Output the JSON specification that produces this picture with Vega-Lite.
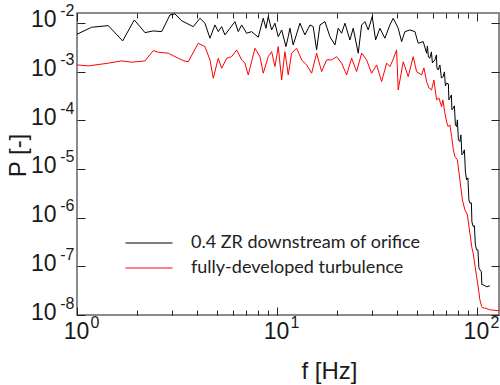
{
  "$schema": "https://vega.github.io/schema/vega-lite/v6.json",
  "width": 422,
  "height": 302,
  "autosize": {"type": "none"},
  "padding": {"left": 77, "top": 13, "right": 1, "bottom": 70},
  "config": {
    "view": {"stroke": "#666666", "strokeWidth": 1.5},
    "axis": {
      "grid": false, "domain": false,
      "labelFont": "Liberation Sans", "labelFontSize": 23, "labelColor": "#1a1a1a",
      "titleFont": "Liberation Sans", "titleFontSize": 24, "titleFontWeight": "normal", "titleColor": "#1a1a1a",
      "tickColor": "#222222", "tickWidth": 1,
      "labelOverlap": false, "labelFlush": false, "labelBound": false
    }
  },
  "data": {"values": [
    {"s":"b","f":1.0,"P":0.00586},{"s":"b","f":1.184,"P":0.00816},{"s":"b","f":1.434,"P":0.0088},{"s":"b","f":1.692,"P":0.00427},
    {"s":"b","f":1.934,"P":0.01152},{"s":"b","f":2.188,"P":0.00632},{"s":"b","f":2.407,"P":0.00685},{"s":"b","f":2.652,"P":0.00663},
    {"s":"b","f":2.917,"P":0.0146},{"s":"b","f":3.09,"P":0.0153},{"s":"b","f":3.35,"P":0.01099},{"s":"b","f":3.814,"P":0.00839},
    {"s":"b","f":4.121,"P":0.01249},{"s":"b","f":4.365,"P":0.00986},{"s":"b","f":4.624,"P":0.00485},{"s":"b","f":4.898,"P":0.0091},
    {"s":"b","f":5.088,"P":0.00663},{"s":"b","f":5.29,"P":0.00839},{"s":"b","f":5.495,"P":0.00567},{"s":"b","f":5.821,"P":0.00778},
    {"s":"b","f":6.166,"P":0.01063},{"s":"b","f":6.405,"P":0.00663},{"s":"b","f":6.661,"P":0.0091},{"s":"b","f":7.055,"P":0.00614},
    {"s":"b","f":7.47,"P":0.00663},{"s":"b","f":8.063,"P":0.00509},{"s":"b","f":8.541,"P":0.01249},{"s":"b","f":8.81,"P":0.00778},
    {"s":"b","f":9.046,"P":0.01347},{"s":"b","f":9.408,"P":0.00718},{"s":"b","f":9.772,"P":0.00986},{"s":"b","f":10.15,"P":0.00523},
    {"s":"b","f":10.56,"P":0.00718},{"s":"b","f":11.09,"P":0.00326},{"s":"b","f":11.39,"P":0.00523},{"s":"b","f":11.61,"P":0.00778},
    {"s":"b","f":12.06,"P":0.00353},{"s":"b","f":13.03,"P":0.00986},{"s":"b","f":13.8,"P":0.00567},{"s":"b","f":14.62,"P":0.0091},
    {"s":"b","f":15.19,"P":0.00839},{"s":"b","f":15.79,"P":0.00279},{"s":"b","f":16.41,"P":0.0091},{"s":"b","f":17.38,"P":0.01063},
    {"s":"b","f":18.41,"P":0.00523},{"s":"b","f":19.5,"P":0.00353},{"s":"b","f":20.25,"P":0.00778},{"s":"b","f":21.06,"P":0.00614},
    {"s":"b","f":21.88,"P":0.00986},{"s":"b","f":23.17,"P":0.00448},{"s":"b","f":24.07,"P":0.00778},{"s":"b","f":25.5,"P":0.00239},
    {"s":"b","f":26.52,"P":0.0091},{"s":"b","f":27.54,"P":0.01063},{"s":"b","f":28.61,"P":0.00718},{"s":"b","f":29.96,"P":0.01347},
    {"s":"b","f":31.15,"P":0.00448},{"s":"b","f":32.73,"P":0.00778},{"s":"b","f":34.67,"P":0.00485},{"s":"b","f":36.73,"P":0.0091},
    {"s":"b","f":38.15,"P":0.01249},{"s":"b","f":40.41,"P":0.00778},{"s":"b","f":42.03,"P":0.00413},{"s":"b","f":43.65,"P":0.00663},
    {"s":"b","f":46.24,"P":0.00718},{"s":"b","f":48.98,"P":0.00663},{"s":"b","f":50.88,"P":0.00383},{"s":"b","f":53.89,"P":0.00413},
    {"s":"b","f":56.04,"P":0.00239},{"s":"b","f":56.55,"P":0.00337},{"s":"b","f":57.21,"P":0.002},{"s":"b","f":58.21,"P":0.00188},
    {"s":"b","f":59.22,"P":0.00254},{"s":"b","f":59.91,"P":0.00151},{"s":"b","f":61.66,"P":0.00174},{"s":"b","f":62.73,"P":0.0022},
    {"s":"b","f":63.1,"P":0.00119},{"s":"b","f":64.05,"P":0.00108},{"s":"b","f":65.31,"P":0.00137},{"s":"b","f":66.45,"P":0.000742},
    {"s":"b","f":67.85,"P":0.000789},{"s":"b","f":68.79,"P":0.000986},{"s":"b","f":69.58,"P":0.000509},{"s":"b","f":70.55,"P":0.000578},
    {"s":"b","f":72.02,"P":0.000559},{"s":"b","f":72.44,"P":0.000262},{"s":"b","f":73.28,"P":0.000284},{"s":"b","f":74.57,"P":0.000332},
    {"s":"b","f":74.99,"P":0.000164},{"s":"b","f":76.12,"P":0.000177},{"s":"b","f":77.18,"P":0.000198},{"s":"b","f":78.08,"P":0.0000804},
    {"s":"b","f":79.16,"P":0.0000742},{"s":"b","f":79.9,"P":0.000102},{"s":"b","f":80.82,"P":0.0000396},{"s":"b","f":82.22,"P":0.0000365},
    {"s":"b","f":83.18,"P":0.0000501},{"s":"b","f":84.14,"P":0.0000195},{"s":"b","f":85.41,"P":0.0000211},{"s":"b","f":86.6,"P":0.0000247},
    {"s":"b","f":87.6,"P":0.00000872},{"s":"b","f":88.82,"P":0.00000597},{"s":"b","f":90.16,"P":0.00000657},{"s":"b","f":91.2,"P":0.00000232},
    {"s":"b","f":92.26,"P":0.00000199},{"s":"b","f":93.88,"P":0.00000201},{"s":"b","f":94.41,"P":0.00000082},{"s":"b","f":95.83,"P":0.000000657},
    {"s":"b","f":97.16,"P":0.000000679},{"s":"b","f":98.29,"P":0.000000276},{"s":"b","f":99.65,"P":0.000000218},{"s":"b","f":101.2,"P":0.000000218},
    {"s":"b","f":102.3,"P":0.0000000931},{"s":"b","f":103.5,"P":0.0000000847},{"s":"b","f":105.3,"P":0.0000000771},{"s":"b","f":105.9,"P":0.0000000417},
    {"s":"b","f":107.5,"P":0.0000000417},{"s":"b","f":112.2,"P":0.0000000379},{"s":"b","f":116.1,"P":0.0000000398},

    {"s":"r","f":1.0,"P":0.001373},{"s":"r","f":1.139,"P":0.00131},{"s":"r","f":1.434,"P":0.00149},{"s":"r","f":1.673,"P":0.00166},
    {"s":"r","f":1.877,"P":0.00156},{"s":"r","f":2.188,"P":0.00166},{"s":"r","f":2.407,"P":0.0027},{"s":"r","f":2.55,"P":0.0025},
    {"s":"r","f":2.861,"P":0.00239},{"s":"r","f":3.21,"P":0.00188},{"s":"r","f":3.428,"P":0.00166},{"s":"r","f":3.602,"P":0.0016},
    {"s":"r","f":4.041,"P":0.00383},{"s":"r","f":4.365,"P":0.00326},{"s":"r","f":4.624,"P":0.00174},{"s":"r","f":4.803,"P":0.000732},
    {"s":"r","f":5.088,"P":0.00188},{"s":"r","f":5.29,"P":0.00117},{"s":"r","f":5.604,"P":0.00188},{"s":"r","f":5.936,"P":0.00203},
    {"s":"r","f":6.288,"P":0.00279},{"s":"r","f":6.661,"P":0.00174},{"s":"r","f":6.918,"P":0.00149},{"s":"r","f":7.186,"P":0.000855},
    {"s":"r","f":7.762,"P":0.00302},{"s":"r","f":8.222,"P":0.00203},{"s":"r","f":8.541,"P":0.000927},{"s":"r","f":9.046,"P":0.00203},
    {"s":"r","f":9.408,"P":0.00257},{"s":"r","f":9.772,"P":0.00127},{"s":"r","f":10.15,"P":0.00326},{"s":"r","f":10.56,"P":0.000675},
    {"s":"r","f":10.96,"P":0.00257},{"s":"r","f":11.39,"P":0.000855},{"s":"r","f":11.84,"P":0.00239},{"s":"r","f":12.54,"P":0.00302},
    {"s":"r","f":13.29,"P":0.00174},{"s":"r","f":14.08,"P":0.001373},{"s":"r","f":14.91,"P":0.000927},{"s":"r","f":15.79,"P":0.00239},
    {"s":"r","f":16.73,"P":0.001},{"s":"r","f":17.72,"P":0.00174},{"s":"r","f":18.77,"P":0.00174},{"s":"r","f":19.88,"P":0.00203},
    {"s":"r","f":21.06,"P":0.00149},{"s":"r","f":22.31,"P":0.000855},{"s":"r","f":23.63,"P":0.00188},{"s":"r","f":25.03,"P":0.001},
    {"s":"r","f":26.52,"P":0.00239},{"s":"r","f":28.09,"P":0.00174},{"s":"r","f":29.75,"P":0.000927},{"s":"r","f":31.51,"P":0.001373},
    {"s":"r","f":33.38,"P":0.000623},{"s":"r","f":35.36,"P":0.00149},{"s":"r","f":36.73,"P":0.00127},{"s":"r","f":38.02,"P":0.00174},
    {"s":"r","f":39.67,"P":0.00279},{"s":"r","f":40.41,"P":0.000421},{"s":"r","f":42.81,"P":0.0016},{"s":"r","f":45.34,"P":0.000789},
    {"s":"r","f":48.03,"P":0.00203},{"s":"r","f":49.94,"P":0.001},{"s":"r","f":52.91,"P":0.000855},{"s":"r","f":54.33,"P":0.00119},
    {"s":"r","f":56.04,"P":0.000623},{"s":"r","f":57.54,"P":0.000463},{"s":"r","f":59.36,"P":0.000421},{"s":"r","f":60.95,"P":0.000675},
    {"s":"r","f":62.88,"P":0.000262},{"s":"r","f":64.57,"P":0.000288},{"s":"r","f":66.61,"P":0.000191},{"s":"r","f":67.61,"P":0.000262},
    {"s":"r","f":69.18,"P":0.00014},{"s":"r","f":70.79,"P":0.0000884},{"s":"r","f":71.86,"P":0.0000742},{"s":"r","f":73.28,"P":0.0000804},
    {"s":"r","f":74.72,"P":0.0000463},{"s":"r","f":76.3,"P":0.0000247},{"s":"r","f":77.62,"P":0.000018},{"s":"r","f":79.9,"P":0.0000154},
    {"s":"r","f":82.22,"P":0.00000597},{"s":"r","f":84.63,"P":0.00000232},{"s":"r","f":87.1,"P":0.00000145},{"s":"r","f":89.64,"P":0.00000114},
    {"s":"r","f":92.26,"P":0.00000048},{"s":"r","f":94.41,"P":0.00000024},{"s":"r","f":95.83,"P":0.000000187},{"s":"r","f":99.65,"P":0.0000000617},
    {"s":"r","f":101.2,"P":0.0000000417},{"s":"r","f":103.5,"P":0.0000000205},{"s":"r","f":105.6,"P":0.000000015},{"s":"r","f":106.5,"P":0.0000000141},
    {"s":"r","f":109.6,"P":0.0000000139},{"s":"r","f":116.1,"P":0.0000000128},{"s":"r","f":128.8,"P":0.0000000122}
  ]},
  "layer": [
    {
      "transform": [{"filter": "datum.s === 'r'"}],
      "mark": {"type": "line", "strokeWidth": 1, "clip": true},
      "encoding": {
        "x": {
          "field": "f", "type": "quantitative",
          "scale": {"type": "log", "domain": [1, 129], "nice": false},
          "axis": {
            "orient": "bottom",
            "values": [1,2,3,4,5,6,7,8,9,10,20,30,40,50,60,70,80,90,100],
            "tickSize": {"condition": {"test": "datum.value === 1 || datum.value === 10 || datum.value === 100", "value": -8}, "value": -5},
            "labelExpr": "datum.value === 1 || datum.value === 10 || datum.value === 100 ? '10' : ''",
            "labelPadding": 31, "labelOffset": -1, "labelBaseline": "alphabetic", "labelAlign": "center",
            "title": "f [Hz]", "titleX": 252, "titleY": 63, "titleBaseline": "alphabetic", "titleAlign": "center"
          }
        },
        "y": {
          "field": "P", "type": "quantitative",
          "scale": {"type": "log", "domain": [1e-8, 0.016], "nice": false},
          "axis": {
            "orient": "left",
            "values": [1e-8, 1e-7, 1e-6, 1e-5, 1e-4, 1e-3, 1e-2],
            "tickSize": -8, "labelPadding": 29, "labelOffset": 4,
            "labelAlign": "right", "labelBaseline": "alphabetic",
            "labelExpr": "'10'",
            "title": "P [-]", "titleX": -52, "titleY": 142, "titleBaseline": "alphabetic", "titleAlign": "center", "titleAngle": -90
          }
        },
        "color": {
          "field": "s", "type": "nominal",
          "scale": {"domain": ["b", "r"], "range": ["#000000", "#ff0000"]},
          "legend": {
            "orient": "none", "legendX": 48, "legendY": 220, "title": null,
            "labelExpr": "datum.label === 'b' ? '0.4 ZR downstream of orifice' : 'fully-developed turbulence'",
            "symbolType": "stroke", "symbolSize": 2209, "symbolStrokeWidth": 1,
            "labelFont": "Lato", "labelFontSize": 18, "labelColor": "#222222", "labelLimit": 400,
            "labelOffset": 18, "clipHeight": 20, "rowPadding": 5, "padding": 0
          }
        }
      }
    },
    {
      "transform": [{"filter": "datum.s === 'b' && datum.f <= 40.41"}],
      "mark": {"type": "line", "strokeWidth": 1, "clip": true},
      "encoding": {
        "x": {
          "field": "f", "type": "quantitative",
          "scale": {"type": "log", "domain": [1, 129], "nice": false},
          "axis": {
            "orient": "top",
            "values": [1,2,3,4,5,6,7,8,9,10,20,30,40,50,60,70,80,90,100],
            "tickSize": {"condition": {"test": "datum.value === 1 || datum.value === 10 || datum.value === 100", "value": -8}, "value": -5},
            "labels": false, "title": null
          }
        },
        "y": {
          "field": "P", "type": "quantitative",
          "scale": {"type": "log", "domain": [1e-8, 0.016], "nice": false},
          "axis": {
            "orient": "right",
            "values": [1e-8, 1e-7, 1e-6, 1e-5, 1e-4, 1e-3, 1e-2],
            "tickSize": -8, "labels": false, "title": null
          }
        },
        "color": {"field": "s", "type": "nominal"}
      }
    },
    {
      "transform": [{"filter": "datum.s === 'b' && datum.f >= 40.41"}],
      "mark": {"type": "line", "strokeWidth": 1, "clip": true},
      "encoding": {
        "x": {
          "field": "f", "type": "quantitative",
          "scale": {"type": "log", "domain": [1, 129], "nice": false},
          "axis": {
            "orient": "bottom",
            "values": [1, 10, 100],
            "ticks": false, "tickSize": 0,
            "labelExpr": "'' + round(log(datum.value)/LN10)",
            "labelFontSize": 16, "labelAlign": "left", "labelBaseline": "alphabetic",
            "labelPadding": 12, "labelOffset": 13, "title": null
          }
        },
        "y": {
          "field": "P", "type": "quantitative",
          "scale": {"type": "log", "domain": [1e-8, 0.016], "nice": false},
          "axis": {
            "orient": "left",
            "values": [1e-8, 1e-7, 1e-6, 1e-5, 1e-4, 1e-3, 1e-2],
            "ticks": false, "tickSize": 0,
            "labelExpr": "'' + round(log(datum.value)/LN10)",
            "labelFontSize": 16, "labelAlign": "right", "labelBaseline": "alphabetic",
            "labelPadding": 3, "labelOffset": -7, "title": null
          }
        },
        "color": {"field": "s", "type": "nominal"}
      }
    }
  ],
  "resolve": {"axis": {"x": "independent", "y": "independent"}}
}
